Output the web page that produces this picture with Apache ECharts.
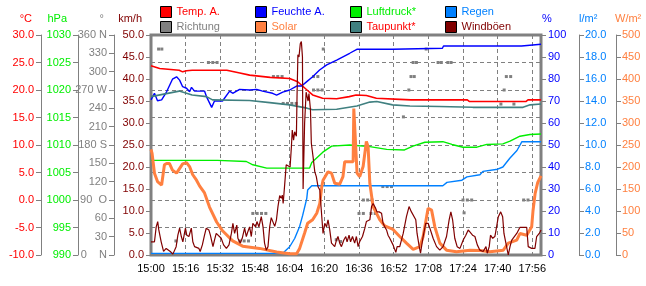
<!DOCTYPE html>
<html><head><meta charset="utf-8">
<script src="https://cdn.jsdelivr.net/npm/echarts@6/dist/echarts.min.js"></script>
<style>html,body{margin:0;padding:0;background:#fff}#c{width:646px;height:286px}</style>
</head><body><div id="c"></div>
<script>
// time in minutes after 15:00
const xTicks = [0,16,32,48,64,80,96,112,128,144,160,176];
const temp = [[0,24.4],[4,23.9],[13,23.6],[14.6,23.3],[16.4,23.5],[19,23.6],[35,23.6],[41,23.1],[45.5,22.7],[55,22.3],[64,22.1],[67.7,21.5],[72,20.0],[74.6,19.1],[79.2,18.5],[85.7,18.4],[91.5,18.8],[94.7,19.1],[99.4,19.0],[104,18.5],[114.8,18.3],[120,18.2],[146,18.2],[147,17.9],[173,17.9],[174,18.2],[180,18.2]];
const humidity = [[0,70.5],[1.6,73.5],[3,70.1],[4.9,70.5],[7.2,74.2],[9.9,79.9],[11.8,81],[13.2,79.5],[14.6,76.5],[16.4,75.8],[17.8,74.2],[18.7,76.2],[20.1,74.5],[24.7,74.5],[25.6,72],[28,67.1],[29.3,70],[33,70],[36.3,74.5],[37.7,73.5],[40.9,75.3],[45.5,75],[48.8,75.3],[51.5,74.5],[56.1,73.5],[58,72.7],[60.8,74],[64,75],[67.2,76.8],[69.5,76.8],[71.9,78.8],[74.6,81],[77.8,84.1],[81.1,86.4],[85.7,88.6],[91.7,91.7],[95,93.5],[111.5,93.5],[112,94],[134.5,94],[135,95],[171,95],[171.5,95.8],[180,95.8]];
const pressure = [[0,1007.2],[30.7,1007.2],[44,1007.0],[47,1006.4],[53.4,1005.8],[73.2,1005.8],[74.2,1006.8],[79.3,1008.7],[83.4,1009.8],[91.7,1010.0],[101,1009.7],[108.8,1009.2],[117,1009.1],[120.9,1009.8],[126.4,1010.5],[134.7,1010.6],[138.9,1010.1],[144,1009.6],[150.4,1009.6],[155,1010.1],[162.4,1010.2],[165.7,1010.7],[170.3,1011.6],[174.9,1011.9],[180,1012.0]];
const rain = [[0,0.15],[60.8,0.15],[64,0.75],[66.3,1.5],[68.6,2.6],[70,3.6],[71.9,5.15],[72.3,5.9],[74.2,6.3],[134.7,6.3],[136.6,6.6],[143.5,6.8],[145.8,7.1],[151.8,7.3],[153.2,7.6],[160,7.8],[162.4,8.0],[165.6,8.8],[168.9,9.5],[171.2,10.3],[180,10.3]];
const direction = [[3.5,337],[5,337],[11.5,23],[26.5,315],[28.5,315],[30.5,315],[41,23],[43,23],[45,23],[47,68],[49,68],[51,68],[53,68],[56.5,292],[58.5,292],[60.5,292],[61,248],[63,248],[65,248],[67,248],[75,292],[77,292],[75,270],[77,270],[79,270],[79.5,337],[85.5,25],[87.5,22],[96,68],[98,68],[98,90],[100,90],[102,90],[101.5,68],[103.5,68],[107,112],[109,112],[111,112],[116.5,226],[119,270],[120,292],[121.5,292],[121,315],[122.5,315],[127,337],[132.5,315],[134,315],[137,315],[138.5,315],[144,90],[146,90],[148,90],[144.5,69],[161.5,247],[163,270],[164,292],[166,292],[167.5,247],[172,90],[174,90]];
const solar = [[0,240],[0.5,231],[1.6,186],[3,167],[4.9,159],[5.3,159],[6.2,205],[7.2,208],[8.5,208],[9.9,193],[11.8,186],[14.6,207],[16.4,210],[17.8,201],[19.2,183],[21,170],[22.4,157],[24.7,141],[27,109],[30.3,75],[33,55],[37.7,32],[42.3,20],[50.1,15],[58,7],[64,3],[67.2,3],[68.6,15],[70.9,50],[72.3,72],[74.6,80],[76.5,95],[77.9,117],[78.8,155],[79.4,170],[81.7,189],[83.3,186],[84.8,163],[87.1,161],[88.6,178],[89.4,212],[93.3,212],[93.6,333],[94.5,333],[95.1,186],[96.3,178],[97.9,201],[99.4,258],[100.2,246],[101,163],[102.5,110],[105.6,80],[107.9,66],[111.7,58],[114.8,42],[117.9,27],[121,13],[124.1,19],[125.6,42],[127.2,87],[127.9,106],[129.5,102],[131,64],[133.3,27],[136.4,11],[141,7.5],[147.2,11],[151.8,10],[156.4,7.5],[162.6,11],[164.9,27],[168.8,34],[170.3,49],[173.4,45],[175.7,64],[176.3,100],[177.3,140],[178.5,165],[180,180]];
const dewpoint = [[0,18.8],[13,19.8],[19,19.1],[25.6,18.8],[28.4,18.2],[45.5,18.1],[54.8,17.7],[64,17.3],[72,16.7],[74.6,16.4],[85.7,16.5],[95,17.1],[101,17.8],[104.2,17.9],[111.5,17.3],[119.5,17.1],[133,17.0],[148.5,16.85],[171.7,16.85],[175,17.3],[180,17.45]];
const gusts = [[0,3.0],[1.6,3.0],[2.4,6.4],[3.1,7.6],[3.6,5.7],[4.7,3.0],[5.8,0.8],[7.0,1.5],[7.8,1.5],[8.9,0.8],[10.1,0.2],[11.6,1.9],[12.4,4.5],[13.2,6.1],[14.0,4.2],[14.7,3.0],[15.9,6.1],[16.5,4.5],[17.5,4.2],[18.6,6.1],[19.3,3.0],[20.1,1.9],[20.9,1.9],[22.1,1.5],[22.7,0.8],[23.7,2.3],[24.7,4.5],[25.5,6.1],[26.7,5.7],[27.4,4.5],[28.6,1.9],[29.3,3.4],[30.1,4.9],[30.9,4.5],[32.4,3.8],[33.5,2.3],[34.8,1.5],[36.0,2.3],[37.1,4.9],[37.8,7.2],[38.6,4.9],[39.6,6.8],[40.1,3.8],[41.2,2.7],[42.1,3.8],[43.2,6.1],[44.0,4.2],[44.7,5.3],[45.5,6.4],[46.3,4.2],[47.0,7.2],[48.3,6.4],[48.9,7.6],[49.8,6.4],[50.9,8.7],[51.7,6.4],[52.4,2.7],[53.2,1.1],[54.0,1.9],[54.8,6.5],[55.5,8.5],[56.3,8.5],[57.1,6.5],[57.9,8.0],[58.6,11],[59.4,13.5],[60.2,12.9],[60.6,13.6],[61.0,11.7],[61.7,16],[62.4,20.5],[63.2,20.1],[64.2,20],[64.8,24.6],[65.2,28.4],[65.8,26.1],[66.3,28],[67.1,27],[67.4,36],[67.8,45.5],[68.3,45],[68.9,48],[69.4,48.5],[69.9,45],[70.2,15],[70.9,30],[71.6,37],[72.5,35],[72.9,36.7],[73.6,33],[74.0,25.4],[74.8,22.3],[75.6,18.9],[76.3,17.8],[77.1,15.5],[77.9,14.8],[78.7,9.5],[79.4,4.9],[80.2,7.2],[81.0,6.4],[81.7,8.0],[82.5,5.7],[83.3,2.7],[84.8,1.9],[85.6,3.4],[86.3,4.2],[87.1,2.7],[87.9,1.9],[89.0,3.4],[89.9,4.2],[90.5,3.0],[91.4,4.5],[92.1,3.0],[93.0,4.2],[94.0,2.7],[94.8,4.2],[95.6,1.9],[96.3,3.0],[97.6,4.2],[98.7,6.1],[99.4,7.6],[101.0,8.0],[101.8,11],[102.5,11.7],[103.7,10.6],[104.3,9.8],[105.3,9.8],[106.4,9.5],[107.1,7.2],[107.9,6.4],[108.7,5.7],[109.4,4.5],[110.2,3.8],[111.7,2.3],[113.0,0.6],[113.6,1.9],[114.8,1.9],[116.4,4.9],[117.9,8.7],[119.1,11],[120.2,9.8],[121.0,9.8],[122.2,8.0],[122.8,4.9],[123.8,1.9],[124.4,0.4],[125.6,4.2],[126.8,7.2],[127.9,7.2],[128.7,6.1],[129.5,6.1],[130.2,3.8],[131.8,1.9],[133.3,1.1],[134.8,1.9],[136.4,4.2],[137.6,8.0],[138.4,9.8],[139.2,8.0],[140.2,3.8],[141.3,1.9],[142.6,1.5],[144.1,3.4],[145.3,4.5],[146.4,5.7],[147.2,6.1],[148.4,4.5],[149.5,4.2],[150.6,2.3],[151.8,1.1],[153.3,0.8],[154.6,1.9],[155.2,0.4],[156.1,1.9],[156.7,4.5],[157.7,3.8],[158.7,4.2],[159.5,6.4],[160.3,8.7],[161.4,9.8],[162.3,8.7],[162.9,4.9],[163.8,2.7],[164.9,0],[165.7,1.9],[166.5,3.4],[168.8,4.9],[170.3,6.3],[173.4,6.3],[174.1,1.9],[175.7,1.5],[177.2,1.5],[178.0,4.2],[179.2,4.9],[180,5.7]];
const dirLabels = {360:'360 N',270:'270 W',180:'180 S',90:'90  O',0:'0    N'};

const FONT = 'Liberation Sans, Arial, sans-serif';
const GRAY = '#808080';
const C = {temp:'#ff0000',hum:'#0000ff',pres:'#00ee00',rain:'#0080ff',dir:'#808080',sol:'#ff8040',dew:'#408080',gust:'#800000'};

function fmtTime(v){const m=15*60+v;return Math.floor(m/60)+':'+String(m%60).padStart(2,'0');}

function yAx(o){
  return Object.assign({
    type:'value', alignTicks:false,
    axisLine:{show:true,onZero:false,lineStyle:{color:GRAY,width:1}},
    axisTick:{show:true,length:5,lineStyle:{color:GRAY}},
    splitLine:{show:false}
  }, o);
}

const chart = echarts.init(document.getElementById('c'), null, {renderer:'canvas'});
const legendBase = {orient:'vertical',top:6,itemWidth:11,itemHeight:11,itemGap:3,icon:'rect',
  itemStyle:{borderColor:'#000',borderWidth:1},textStyle:{fontSize:11,fontFamily:FONT},padding:0,selectedMode:false};
function lg(left,a,b){return Object.assign({},legendBase,{left:left,data:[{name:a[0],textStyle:{color:a[1]}},{name:b[0],textStyle:{color:b[1]}}]});}

const unitText=(t,x,color,align)=>({type:'text',x:x,y:19,style:{text:t,fill:color,font:'11px '+FONT,align:align,verticalAlign:'middle'}});
const lab=(color,fmt,margin)=>({fontSize:11,fontFamily:FONT,margin:margin||7,color:color,formatter:fmt||(v=>String(v))});

chart.setOption({
  animation:false,
  backgroundColor:'#fff',
  grid:{left:151,right:105,top:35,bottom:31,show:true,borderColor:GRAY,borderWidth:3,backgroundColor:'transparent'},
  legend:[
    lg(160,['Temp. A.',C.temp],['Richtung',C.dir]),
    lg(255,['Feuchte A.',C.hum],['Solar',C.sol]),
    lg(350,['Luftdruck*',C.pres],['Taupunkt*','#ff0000']),
    lg(445,['Regen',C.rain],['Windböen',C.gust])
  ],
  graphic:[
    unitText('°C',32,C.temp,'right'),
    unitText('hPa',67,C.pres,'right'),
    unitText('°',104,C.dir,'right'),
    unitText('km/h',142,C.gust,'right'),
    unitText('%',542,C.hum,'left'),
    unitText('l/m²',579,C.rain,'left'),
    unitText('W/m²',615,C.sol,'left')
  ],
  xAxis:{type:'value',min:0,max:180,interval:16,
    axisLine:{show:false},axisTick:{show:false},
    axisLabel:{fontSize:11,fontFamily:FONT,color:'#000',margin:8,showMaxLabel:false,
      formatter:v=>xTicks.indexOf(v)>=0?fmtTime(v):''},
    splitLine:{show:true,lineStyle:{color:GRAY,type:[4,3],width:1}}},
  yAxis:[
    yAx({position:'left',offset:110,min:-10,max:30,interval:5,
      axisLabel:lab(C.temp,v=>v.toFixed(1)),
      splitLine:{show:true,lineStyle:{color:GRAY,type:[4,3],width:1}}}),
    yAx({position:'left',offset:73,min:990,max:1030,interval:5,axisLabel:lab(C.pres)}),
    yAx({position:'left',offset:37,min:0,max:360,interval:30,
      axisLabel:lab(C.dir,v=>dirLabels[v]!==undefined?dirLabels[v]:String(v))}),
    yAx({position:'left',offset:0,min:0,max:50,interval:5,axisLabel:lab(C.gust,v=>v.toFixed(1))}),
    yAx({position:'right',offset:0,min:0,max:100,interval:10,axisLabel:lab(C.hum)}),
    yAx({position:'right',offset:38,min:0,max:20,interval:2,axisLabel:lab(C.rain,v=>v.toFixed(1),6)}),
    yAx({position:'right',offset:75,min:0,max:500,interval:50,axisLabel:lab(C.sol,null,6)})
  ],
  series:[
    {name:'Temp. A.',type:'line',yAxisIndex:0,data:temp,showSymbol:false,color:C.temp,lineStyle:{width:1.6,color:C.temp}},
    {name:'Feuchte A.',type:'line',yAxisIndex:4,data:humidity,showSymbol:false,color:C.hum,lineStyle:{width:1.4,color:C.hum}},
    {name:'Luftdruck*',type:'line',yAxisIndex:1,data:pressure,showSymbol:false,color:C.pres,lineStyle:{width:1.4,color:C.pres}},
    {name:'Regen',type:'line',yAxisIndex:5,data:rain,showSymbol:false,color:C.rain,lineStyle:{width:1.4,color:C.rain}},
    {name:'Richtung',type:'scatter',yAxisIndex:2,data:direction,symbol:'rect',symbolSize:[3,3],color:C.dir,itemStyle:{color:C.dir,opacity:1}},
    {name:'Solar',type:'line',yAxisIndex:6,data:solar,showSymbol:false,color:C.sol,lineStyle:{width:3,color:C.sol}},
    {name:'Taupunkt*',type:'line',yAxisIndex:0,data:dewpoint,showSymbol:false,color:C.dew,lineStyle:{width:1.6,color:C.dew}},
    {name:'Windböen',type:'line',yAxisIndex:3,data:gusts,showSymbol:false,color:C.gust,lineStyle:{width:1.2,color:C.gust}}
  ]
});
</script>
</body></html>
